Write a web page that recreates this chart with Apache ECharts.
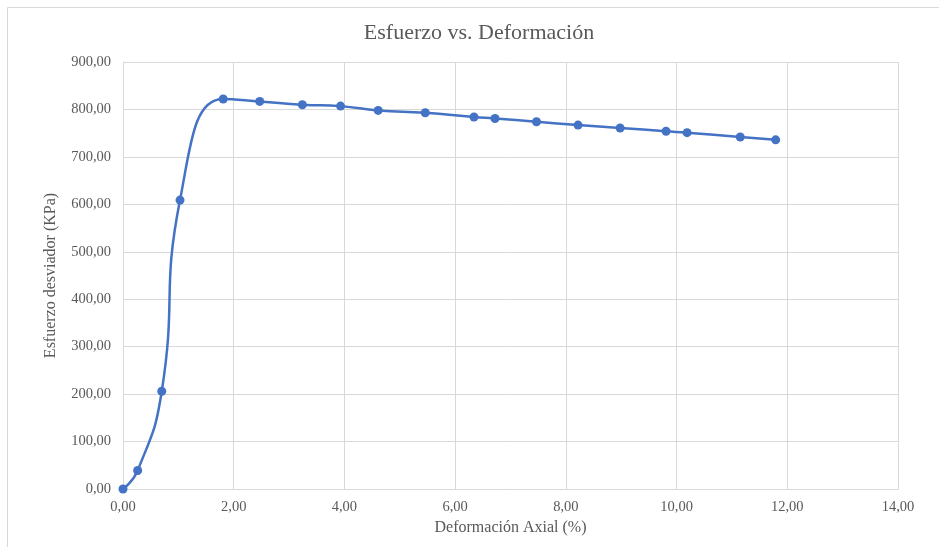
<!DOCTYPE html>
<html>
<head>
<meta charset="utf-8">
<script src="https://cdn.jsdelivr.net/npm/echarts@6/dist/echarts.min.js"></script>
<style>html,body{margin:0;padding:0;background:#fff;}#c{width:939px;height:547px;}</style>
</head>
<body>
<div id="c"></div>
<script>
var strain = [0, 0.265, 0.70, 1.03, 1.81, 2.47, 3.24, 3.93, 4.61, 5.46, 6.34, 6.72, 7.47, 8.22, 8.98, 9.81, 10.19, 11.15, 11.79];
var stress = [0, 39, 206, 609, 822, 817, 810, 807, 798, 793, 784, 781, 774, 767, 761, 754, 751, 742, 736];
var titleText = 'Esfuerzo vs. Deformación';
var xName = 'Deformación Axial (%)';
var yName = 'Esfuerzo desviador (KPa)';

var data = strain.map(function (x, i) { return [x, stress[i]]; });
var fmt = function (v) { return v.toFixed(2).replace('.', ','); };
var font = '"Liberation Serif", "Times New Roman", serif';

var chart = echarts.init(document.getElementById('c'), null, {renderer: 'canvas'});
chart.setOption({
  animation: false,
  backgroundColor: '#fff',
  textStyle: {fontFamily: font},
  title: {
    text: titleText,
    left: 474, top: 17, textAlign: 'center',
    textStyle: {fontFamily: font, fontSize: 22, fontWeight: 'normal', color: '#595959'}
  },
  graphic: [{
    type: 'rect', shape: {x: 7.5, y: 7.5, width: 940, height: 550},
    style: {fill: 'none', stroke: '#d9d9d9', lineWidth: 1}, silent: true
  }],
  grid: {left: 123, right: 41, top: 62, bottom: 58, containLabel: false},
  xAxis: {
    type: 'value', min: 0, max: 14, interval: 2,
    name: xName, nameLocation: 'middle', nameGap: 31,
    nameTextStyle: {fontFamily: font, fontSize: 16, color: '#595959'},
    axisLine: {show: true, lineStyle: {color: '#d9d9d9'}},
    axisTick: {show: false},
    axisLabel: {formatter: fmt, fontFamily: font, fontSize: 14.5, color: '#595959', margin: 11},
    splitLine: {show: true, lineStyle: {color: '#d9d9d9', width: 1}}
  },
  yAxis: {
    type: 'value', min: 0, max: 900, interval: 100,
    name: yName, nameLocation: 'middle', nameGap: 64,
    nameTextStyle: {fontFamily: font, fontSize: 16, color: '#595959'},
    axisLine: {show: true, lineStyle: {color: '#d9d9d9'}},
    axisTick: {show: false},
    axisLabel: {formatter: fmt, fontFamily: font, fontSize: 14.5, color: '#595959', margin: 12},
    splitLine: {show: true, lineStyle: {color: '#d9d9d9', width: 1}}
  },
  series: [{
    type: 'line', data: data, smooth: 0.5,
    symbol: 'circle', symbolSize: 9,
    lineStyle: {color: '#4472C4', width: 2.5},
    itemStyle: {color: '#4472C4'}
  }]
});
</script>
</body>
</html>
